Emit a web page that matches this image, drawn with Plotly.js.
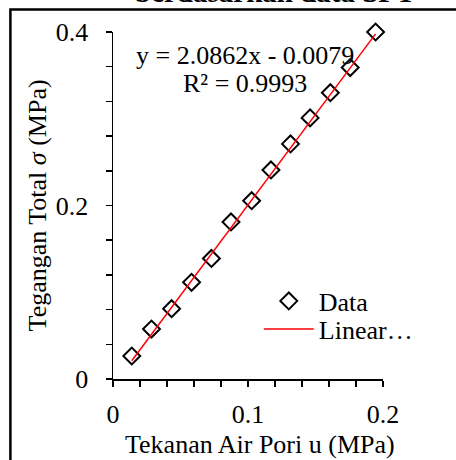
<!DOCTYPE html>
<html>
<head>
<meta charset="utf-8">
<script src="https://cdn.plot.ly/plotly-3.0.1.min.js"></script>
<style>
  html, body { margin: 0; padding: 0; background: #fff; }
  #chart { width: 456px; height: 460px; }
</style>
</head>
<body>
<div id="chart"></div>
<script>
// Pore water pressure u (MPa) and total stress sigma (MPa) from SPT data
const poreWaterPressure = [0.0139, 0.0285, 0.0434, 0.0582, 0.0729, 0.0874, 0.1027, 0.1170, 0.1315, 0.1460, 0.1610, 0.1757, 0.1945];
const totalStress = [0.0265, 0.0576, 0.0810, 0.1115, 0.1390, 0.1810, 0.2055, 0.2410, 0.2710, 0.3010, 0.3300, 0.3590, 0.4000];

// Linear trendline coefficients
const slope = 2.0862;
const intercept = -0.0079;
const rSquared = 0.9993;

const xTickVals = [0, 0.1, 0.2];
const xTickText = ['0', '0.1', '0.2'];
const yTickVals = [0, 0.2, 0.4];
const yTickText = ['0', '0.2', '0.4'];

const FONT = 'Liberation Serif, Times New Roman, serif';

const xMin = Math.min(...poreWaterPressure);
const xMax = Math.max(...poreWaterPressure);
const trendX = [xMin, xMax];
const trendY = trendX.map(v => slope * v + intercept);

const dataTrace = {
  x: poreWaterPressure,
  y: totalStress,
  type: 'scatter',
  mode: 'markers',
  name: 'Data',
  legend: 'legend',
  marker: { symbol: 'diamond-open', size: 13, color: '#000', line: { width: 2, color: '#000' } },
  cliponaxis: false
};

const trendTrace = {
  x: trendX,
  y: trendY,
  type: 'scatter',
  mode: 'lines',
  name: 'Linear\u2026',
  legend: 'legend2',
  line: { color: '#ff0000', width: 1.5 }
};

const axisCommon = {
  showgrid: false,
  zeroline: false,
  showline: true,
  linecolor: '#000',
  linewidth: 1.5,
  ticks: 'outside',
  ticklen: 6,
  tickwidth: 1.5,
  tickcolor: '#000',
  tickfont: { family: FONT, size: 26, color: '#000' },
  fixedrange: true
};

const legendCommon = {
  xanchor: 'left',
  yanchor: 'middle',
  bgcolor: 'rgba(0,0,0,0)',
  font: { family: FONT, size: 26, color: '#000' },
  itemwidth: 50
};

const eqText = 'y = ' + slope.toFixed(4) + 'x ' + (intercept < 0 ? '- ' : '+ ') + Math.abs(intercept).toFixed(4);
const r2Text = 'R\u00b2 = ' + rSquared.toFixed(4);

const layout = {
  width: 456,
  height: 460,
  margin: { l: 113, r: 73, t: 32, b: 81 },
  paper_bgcolor: '#fff',
  plot_bgcolor: '#fff',
  font: { family: FONT, size: 26, color: '#000' },
  xaxis: Object.assign({}, axisCommon, {
    range: [0, 0.2],
    tickvals: xTickVals,
    ticktext: xTickText,
    ticklabelstandoff: 5,
    minor: { dtick: 0.02, ticks: 'outside', ticklen: 6, tickwidth: 1.5, tickcolor: '#000' }
  }),
  yaxis: Object.assign({}, axisCommon, {
    range: [0, 0.4],
    tickvals: yTickVals,
    ticktext: yTickText,
    ticklabelstandoff: 12,
    minor: { dtick: 0.04, ticks: 'outside', ticklen: 6, tickwidth: 1.5, tickcolor: '#000' }
  }),
  showlegend: true,
  legend: Object.assign({}, legendCommon, { x: 0.54, y: 0.2248 }),
  legend2: Object.assign({}, legendCommon, { x: 0.54, y: 0.144 }),
  shapes: [{
    type: 'rect', xref: 'paper', yref: 'paper',
    x0: -0.380, x1: 2, y0: 1.0648, y1: -1,
    line: { color: '#000', width: 2.5 }, fillcolor: 'rgba(0,0,0,0)', layer: 'above'
  }],
  annotations: [
    { text: 'berdasarkan data SPT', xref: 'paper', yref: 'paper', x: 0.6, y: 1.064,
      xanchor: 'center', yanchor: 'bottom', showarrow: false,
      font: { family: FONT, size: 29, color: '#000', weight: 'bold' } },
    { text: eqText, xref: 'paper', yref: 'paper', x: 0.489, y: 0.931,
      xanchor: 'center', yanchor: 'middle', showarrow: false },
    { text: r2Text, xref: 'paper', yref: 'paper', x: 0.489, y: 0.853,
      xanchor: 'center', yanchor: 'middle', showarrow: false },
    { text: 'Tekanan Air Pori u (MPa)', xref: 'paper', yref: 'paper', x: 0.544, y: -0.19,
      xanchor: 'center', yanchor: 'middle', showarrow: false },
    { text: 'Tegangan Total <i>\u03c3</i> (MPa)', xref: 'paper', yref: 'paper', x: -0.278, y: 0.5,
      xanchor: 'center', yanchor: 'middle', showarrow: false, textangle: -90 }
  ]
};

Plotly.newPlot('chart', [dataTrace, trendTrace], layout, { displayModeBar: false, staticPlot: true });
</script>
</body>
</html>
